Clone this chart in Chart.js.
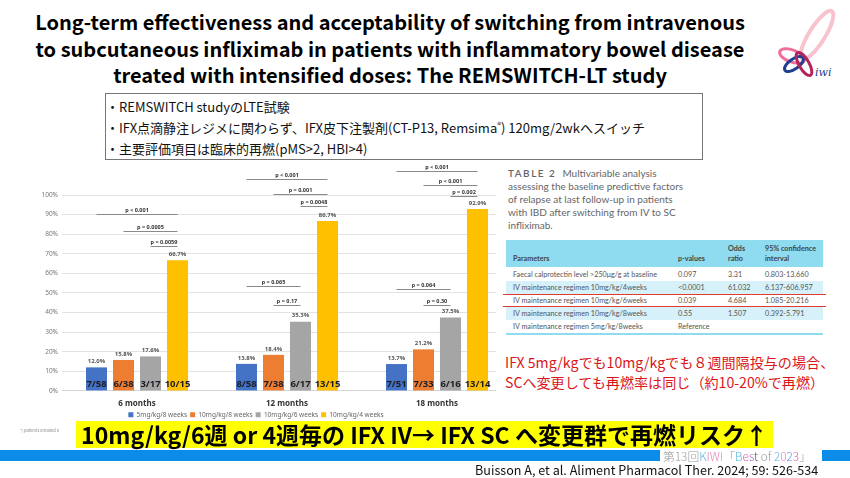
<!DOCTYPE html>
<html>
<head>
<meta charset="utf-8">
<script src="https://cdn.jsdelivr.net/npm/chart.js@4.4.0/dist/chart.umd.min.js"></script>
<style>
body{margin:0;width:850px;height:478px;overflow:hidden;background:#fff;position:relative;font-family:"Noto Sans CJK JP","Noto Sans",sans-serif}
.abs{position:absolute}
#title{left:0;top:9px;width:780px;text-align:center;font-weight:700;font-size:20px;line-height:26.5px;color:#000}
#box{left:105px;top:93px;width:598px;height:67px;border:1px solid #777;box-sizing:border-box;font-size:13px;line-height:21px;padding-top:2px;color:#111}
#chartWrap{left:0;top:156px;width:520px;height:274px}
#cover{left:496px;top:165px;width:354px;height:250px;background:#fff}
#caption{left:508px;top:167px;font-family:Lato,sans-serif;font-size:10px;line-height:13px;color:#666}
#caption b{letter-spacing:1.5px;font-weight:600;margin-right:6px}
.tt{font-family:Lato,sans-serif;font-size:7.2px;color:#555;white-space:nowrap}
.band{left:506px;width:317px;background:#d6f1fa}
.red{height:1px;left:503px;width:323px;background:#e23a2e}
#note{left:505px;top:352px;font-size:14.1px;line-height:20px;color:#d9161a;white-space:nowrap}
#hl{left:76px;top:421px;width:697px;height:27px;background:#ffff00;text-align:center;font-weight:700;font-size:23px;line-height:27px;color:#000;white-space:nowrap}
.blue{top:450px;height:11px;background:#0c8ce9}
#kiwi{left:663px;top:446px;font-size:11.8px;line-height:20px;color:#999;white-space:nowrap;font-weight:300}
#cite{left:475px;top:461px;font-size:12.6px;line-height:18px;color:#111;white-space:nowrap}
#enrolled{left:20px;top:427px;font-size:4px;color:#888}
</style>
</head>
<body>
<div id="title" class="abs">Long-term effectiveness and acceptability of switching from intravenous<br>to subcutaneous infliximab in patients with inflammatory bowel disease<br>treated with intensified doses: The REMSWITCH-LT study</div>

<svg class="abs" style="left:772px;top:4px" width="72" height="78" viewBox="0 0 72 78">
  <ellipse cx="45" cy="31" rx="8" ry="28" transform="rotate(32 45 31)" fill="none" stroke="#f8c3cf" stroke-width="4"/>
  <ellipse cx="20" cy="52" rx="13" ry="6" transform="rotate(20 20 52)" fill="none" stroke="#ef6f9a" stroke-width="3"/>
  <ellipse cx="22" cy="60" rx="11" ry="5" transform="rotate(-35 22 60)" fill="none" stroke="#1f3f8f" stroke-width="3"/>
  <ellipse cx="32" cy="60" rx="5" ry="13" transform="rotate(-30 32 60)" fill="none" stroke="#b3245a" stroke-width="3"/>
  <text x="43" y="72" font-family="DejaVu Serif" font-style="italic" font-size="11" fill="#1f3f8f">iwi</text>
</svg>

<div id="box" class="abs">
  <div>・REMSWITCH studyのLTE試験</div>
  <div>・IFX点滴静注レジメに関わらず、IFX皮下注製剤(CT-P13, Remsima<sup style="font-size:8px;line-height:0">®</sup>) 120mg/2wkへスイッチ</div>
  <div>・主要評価項目は臨床的再燃(pMS&gt;2, HBI&gt;4)</div>
</div>

<div id="chartWrap" class="abs"><canvas id="chart"></canvas></div>
<div id="enrolled" class="abs">*) patients enrolled n</div>

<div id="cover" class="abs"></div>
<div id="caption" class="abs"><b>TABLE 2</b>Multivariable analysis<br>assessing the baseline predictive factors<br>of relapse at last follow-up in patients<br>with IBD after switching from IV to SC<br>infliximab.</div>

<div class="abs" style="left:506px;top:240px;width:317px;height:27px;background:#8fdcf1"></div>
<div class="abs band" style="top:281px;height:13px"></div>
<div class="abs band" style="top:307px;height:13px"></div>
<div class="abs" style="left:506px;top:333px;width:317px;height:1.5px;background:#8fdcf1"></div>
<div class="abs red" style="top:294px"></div>
<div class="abs red" style="top:306px"></div>

<div class="abs tt" style="left:513px;top:254px;font-weight:700;color:#444">Parameters</div>
<div class="abs tt" style="left:678px;top:254px;font-weight:700;color:#444">p-values</div>
<div class="abs tt" style="left:728px;top:244px;font-weight:700;color:#444;line-height:10px">Odds<br>ratio</div>
<div class="abs tt" style="left:765px;top:244px;font-weight:700;color:#444;line-height:10px">95% confidence<br>interval</div>

<div class="abs tt" style="left:513px;top:270px">Faecal calprotectin level &gt;250μg/g at baseline</div>
<div class="abs tt" style="left:678px;top:270px">0.097</div>
<div class="abs tt" style="left:728px;top:270px">3.31</div>
<div class="abs tt" style="left:765px;top:270px">0.803-13.660</div>

<div class="abs tt" style="left:513px;top:283px">IV maintenance regimen 10mg/kg/4weeks</div>
<div class="abs tt" style="left:678px;top:283px">&lt;0.0001</div>
<div class="abs tt" style="left:728px;top:283px">61.032</div>
<div class="abs tt" style="left:765px;top:283px">6.137-606.957</div>

<div class="abs tt" style="left:513px;top:296px">IV maintenance regimen 10mg/kg/6weeks</div>
<div class="abs tt" style="left:678px;top:296px">0.039</div>
<div class="abs tt" style="left:728px;top:296px">4.684</div>
<div class="abs tt" style="left:765px;top:296px">1.085-20.216</div>

<div class="abs tt" style="left:513px;top:309px">IV maintenance regimen 10mg/kg/8weeks</div>
<div class="abs tt" style="left:678px;top:309px">0.55</div>
<div class="abs tt" style="left:728px;top:309px">1.507</div>
<div class="abs tt" style="left:765px;top:309px">0.392-5.791</div>

<div class="abs tt" style="left:513px;top:322px">IV maintenance regimen 5mg/kg/8weeks</div>
<div class="abs tt" style="left:678px;top:322px">Reference</div>

<div id="note" class="abs">IFX 5mg/kgでも10mg/kgでも８週間隔投与の場合、<br>SCへ変更しても再燃率は同じ（約10-20%で再燃）</div>

<div id="hl" class="abs">10mg/kg/6週 or 4週毎の IFX IV→ IFX SC へ変更群で再燃リスク↑</div>
<div class="abs blue" style="left:0;width:660px"></div>
<div class="abs blue" style="left:822px;width:28px"></div>
<div id="kiwi" class="abs">第13回<span style="color:#5fb4e6">K</span><span style="color:#e87fb0">I</span><span style="color:#e87fb0">W</span><span style="color:#c9a0d8">I</span>「<span style="color:#5fb4e6">B</span><span style="color:#e8609a">e</span><span style="color:#b070d0">s</span><span style="color:#555">t</span> of <span style="color:#5fb4e6">2</span><span style="color:#e87fb0">0</span><span style="color:#5f8fe6">2</span><span style="color:#e8609a">3</span>」</div>
<div id="cite" class="abs">Buisson A, et al. Aliment Pharmacol Ther. 2024; 59: 526-534</div>

<script>
const timepoints = ["6 months", "12 months", "18 months"];
const groups = ["5mg/kg/8 weeks", "10mg/kg/8 weeks", "10mg/kg/6 weeks", "10mg/kg/4 weeks"];
const colors = ["#4472c4", "#ed7d31", "#a5a5a5", "#ffc000"];
const relapse5_8 = [12.0, 13.8, 13.7];
const relapse10_8 = [15.8, 18.4, 21.2];
const relapse10_6 = [17.6, 35.3, 37.5];
const relapse10_4 = [66.7, 86.7, 92.9];
const counts5_8 = ["7/58", "8/58", "7/51"];
const counts10_8 = ["6/38", "7/38", "7/33"];
const counts10_6 = ["3/17", "6/17", "6/16"];
const counts10_4 = ["10/15", "13/15", "13/14"];
const yTicks = [0, 10, 20, 30, 40, 50, 60, 70, 80, 90, 100];

// [timepoint, from group, to group, height in %, label]
const pValues = [
    [0, 0, 3, 90.3, "p < 0.001"],
    [0, 1, 3, 81.4, "p = 0.0005"],
    [0, 2, 3, 74.0, "p = 0.0059"],
    [1, 0, 3, 108, "p < 0.001"],
    [1, 1, 3, 100.3, "p = 0.001"],
    [1, 2, 3, 94.4, "p = 0.0048"],
    [1, 0, 2, 53.6, "p = 0.065"],
    [1, 1, 2, 44.0, "p = 0.17"],
    [2, 0, 3, 112.5, "p < 0.001"],
    [2, 1, 3, 105, "p < 0.001"],
    [2, 2, 3, 99.5, "p = 0.002"],
    [2, 0, 2, 52.0, "p = 0.064"],
    [2, 1, 2, 44.0, "p = 0.30"]
];

const series = [relapse5_8, relapse10_8, relapse10_6, relapse10_4];
const counts = [counts5_8, counts10_8, counts10_6, counts10_4];

const barLabels = {
    id: "barLabels",
    afterDatasetsDraw(chart) {
        const c = chart.ctx;
        const y = chart.scales.y;
        c.save();
        c.textAlign = "center";
        chart.data.datasets.forEach((ds, i) => {
            chart.getDatasetMeta(i).data.forEach((bar, j) => {
                c.fillStyle = "#555";
                c.font = "bold 6px 'Noto Sans'";
                c.textBaseline = "bottom";
                c.fillText(ds.data[j].toFixed(1) + "%", bar.x, bar.y - 3);
                c.fillStyle = "#1c1c24";
                c.font = "bold 9.5px 'Noto Sans'";
                c.textBaseline = "middle";
                c.fillText(counts[i][j], bar.x, y.getPixelForValue(0) - 7);
            });
        });
        // significance brackets
        c.strokeStyle = "#8a8a8a";
        c.lineWidth = 1;
        c.fillStyle = "#333";
        c.font = "bold 5.5px 'Noto Sans'";
        c.textBaseline = "bottom";
        pValues.forEach(([t, a, b, v, txt]) => {
            const x1 = chart.getDatasetMeta(a).data[t].x;
            const x2 = chart.getDatasetMeta(b).data[t].x;
            const py = Math.round(y.getPixelForValue(v)) + 0.5;
            c.beginPath();
            c.moveTo(x1, py);
            c.lineTo(x2, py);
            c.stroke();
            c.fillText(txt, (x1 + x2) / 2, py - 1.5);
        });
        c.restore();
    }
};

new Chart(document.getElementById("chart"), {
    type: "bar",
    data: {
        labels: timepoints,
        datasets: groups.map((g, i) => ({
            label: g,
            data: series[i],
            backgroundColor: colors[i],
            categoryPercentage: 0.72,
            barPercentage: 0.78
        }))
    },
    options: {
        responsive: true,
        maintainAspectRatio: false,
        animation: false,
        layout: { padding: { top: 39, right: 8, left: 0, bottom: 2 } },
        scales: {
            y: {
                min: yTicks[0],
                max: yTicks[yTicks.length - 1],
                afterFit: s => { s.width = 62; },
                ticks: {
                    stepSize: yTicks[1] - yTicks[0],
                    callback: v => v + "%",
                    font: { size: 6.5, family: "Noto Sans" },
                    color: "#777",
                    padding: 4
                },
                grid: { color: "#e2e2e2", drawTicks: false },
                border: { display: false }
            },
            x: {
                grid: { display: false },
                border: { color: "#d6d6d6" },
                ticks: { font: { size: 8, weight: "bold", family: "Noto Sans" }, color: "#333", padding: 0 }
            }
        },
        plugins: {
            legend: {
                position: "bottom",
                labels: { boxWidth: 5, boxHeight: 5, font: { size: 6.5, family: "Noto Sans" }, color: "#666", padding: 3 }
            },
            tooltip: { enabled: false }
        }
    },
    plugins: [barLabels]
});
</script>
</body>
</html>
